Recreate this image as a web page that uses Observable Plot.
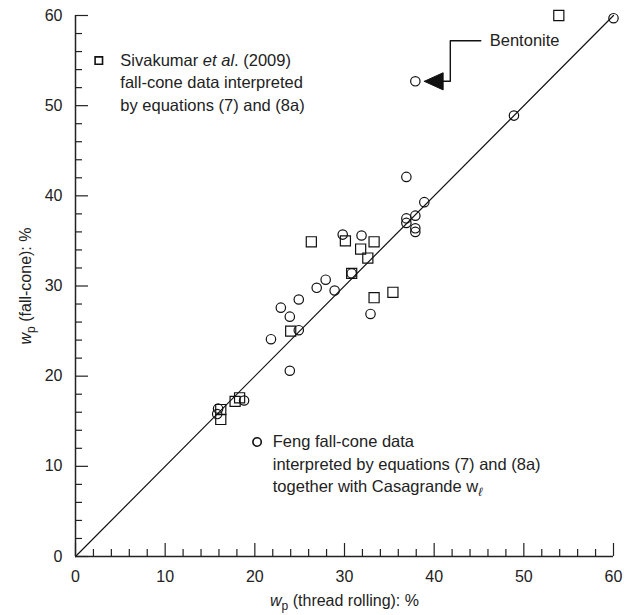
<!DOCTYPE html>
<html><head><meta charset="utf-8">
<script src="https://cdn.jsdelivr.net/npm/d3@7"></script>
<script src="https://cdn.jsdelivr.net/npm/@observablehq/plot@0.6"></script>
<style>
body{margin:0;background:#fff}
#chart svg{font-family:"Liberation Sans",Arial,sans-serif}
</style>
</head><body><div id="chart"></div>
<script>
// Sivakumar et al. (2009) – squares
const sivX = [53.9, 26.3, 30.1, 33.3, 31.8, 32.6, 30.8, 33.3, 35.4, 24.0, 18.3, 17.8, 16.2, 16.2];
const sivY = [60.0, 34.9, 35.0, 34.9, 34.1, 33.1, 31.4, 28.7, 29.3, 25.0, 17.6, 17.2, 16.3, 15.2];
// Feng – circles
const fengX = [60.0, 48.9, 37.9, 36.9, 38.9, 37.9, 36.9, 36.9, 37.9, 37.9, 29.8, 31.9, 30.8, 28.9, 27.9, 26.9, 24.9, 22.9, 23.9, 32.9, 24.9, 21.8, 23.9, 18.8, 15.9, 15.8];
const fengY = [59.7, 48.9, 52.7, 42.1, 39.3, 37.8, 37.5, 37.0, 36.4, 36.0, 35.7, 35.6, 31.4, 29.5, 30.7, 29.8, 28.5, 27.6, 26.6, 26.9, 25.1, 24.1, 20.6, 17.3, 16.4, 15.8];
// line of equality
const lineX = [0, 60];
const lineY = [0, 60];
// axis ticks
const majorTicks = [0, 10, 20, 30, 40, 50, 60];
const minorTicks = d3.range(2, 60, 2).filter(v => v % 10 !== 0);
// legend texts
const sivLegend = ["Sivakumar et al. (2009)", "fall-cone data interpreted", "by equations (7) and (8a)"];
const fengLegend = ["Feng fall-cone data", "interpreted by equations (7) and (8a)", "together with Casagrande wℓ"];
const sivLegendPos = {x: 2.6, y: 55.0, tx: 5.0};
const fengLegendPos = {x: 20.25, y: 12.7, tx: 22.0};
// Bentonite annotation
const bentoLabel = {x: 46.2, y: 57.2, text: "Bentonite"};
const leaderX = [45.2, 41.8, 41.8, 40.9];
const leaderY = [57.2, 57.2, 52.7, 52.7];
const arrowX = [38.9, 41.0, 41.0, 38.9];
const arrowY = [52.7, 53.65, 51.75, 52.7];
const xLabel = "wp (thread rolling): %";
const yLabel = "wp (fall-cone): %";

const ink = "#222";
const siv = sivX.map((x, i) => ({x, y: sivY[i]}));
const feng = fengX.map((x, i) => ({x, y: fengY[i]}));
const diag = lineX.map((x, i) => ({x, y: lineY[i]}));
const leader = leaderX.map((x, i) => ({x, y: leaderY[i]}));
const arrow = arrowX.map((x, i) => ({x, y: arrowY[i]}));

const fs = 16.5;
const lh = 22.5;

const plot = Plot.plot({
  width: 643, height: 615,
  marginLeft: 75, marginRight: 30, marginTop: 15, marginBottom: 59,
  x: {domain: [0, 60]},
  y: {domain: [0, 60]},
  style: {fontFamily: "Liberation Sans, Arial, sans-serif", fontSize: "16px", color: ink, background: "white", overflow: "visible"},
  marks: [
    Plot.line(diag, {x: "x", y: "y", stroke: "#111", strokeWidth: 1.2}),
    // ticks (inward)
    Plot.ruleX(minorTicks, {x: d => d, y1: 0, y2: 0, insetTop: -7, stroke: ink, strokeWidth: 1.2}),
    Plot.ruleX(majorTicks, {x: d => d, y1: 0, y2: 0, insetTop: -13, stroke: ink, strokeWidth: 1.2}),
    Plot.ruleY(minorTicks, {y: d => d, x1: 0, x2: 0, insetRight: -7, stroke: ink, strokeWidth: 1.2}),
    Plot.ruleY(majorTicks, {y: d => d, x1: 0, x2: 0, insetRight: -13, stroke: ink, strokeWidth: 1.2}),
    // axis lines
    Plot.ruleY([0], {stroke: ink, strokeWidth: 1.5}),
    Plot.ruleX([0], {stroke: ink, strokeWidth: 1.5}),
    Plot.axisX({ticks: majorTicks, tickSize: 0, tickPadding: 14, label: null, fontSize: 16, fill: ink}),
    Plot.axisY({ticks: majorTicks, tickSize: 0, tickPadding: 13, label: null, fontSize: 16, fill: ink}),
    Plot.text([xLabel], {x: 30, y: 0, text: d => d, dy: 44, fontSize: 16, fill: ink}),
    Plot.text([yLabel], {x: 0, y: 30, text: d => d, dx: -50, rotate: -90, fontSize: 16, fill: ink}),
    // data
    Plot.dot(siv, {x: "x", y: "y", symbol: "square", r: 5.7, stroke: "#111", strokeWidth: 1.2, fill: "none"}),
    Plot.dot(feng, {x: "x", y: "y", symbol: "circle", r: 4.7, stroke: "#111", strokeWidth: 1.2, fill: "none"}),
    // legends
    Plot.dot([sivLegendPos], {x: "x", y: "y", symbol: "square", r: 4.2, stroke: "#111", strokeWidth: 1.6, fill: "none"}),
    ...sivLegend.map((t, i) => Plot.text([t], {x: sivLegendPos.tx, y: sivLegendPos.y, text: d => d, dy: i * lh, textAnchor: "start", fontSize: fs, fill: ink})),
    Plot.dot([fengLegendPos], {x: "x", y: "y", symbol: "circle", r: 4.2, stroke: "#111", strokeWidth: 1.6, fill: "none"}),
    ...fengLegend.map((t, i) => Plot.text([t], {x: fengLegendPos.tx, y: fengLegendPos.y, text: d => d, dy: i * lh, textAnchor: "start", fontSize: fs, fill: ink})),
    // Bentonite annotation
    Plot.text([bentoLabel], {x: "x", y: "y", text: "text", textAnchor: "start", fontSize: fs, fill: ink}),
    Plot.line(leader, {x: "x", y: "y", stroke: "#111", strokeWidth: 1.4, curve: "linear"}),
    Plot.line(arrow, {x: "x", y: "y", fill: "#111", stroke: "#111", strokeWidth: 1})
  ]
});

// rich text: italics and subscripts
const sel = d3.select(plot);
sel.selectAll("text").each(function () {
  const el = d3.select(this);
  const t = this.textContent;
  if (t === xLabel) {
    el.html('<tspan font-style="italic">w</tspan><tspan font-size="12" dy="4">p</tspan><tspan dy="-4"> (thread rolling): %</tspan>');
  } else if (t === yLabel) {
    el.html('<tspan font-style="italic">w</tspan><tspan font-size="12" dy="4">p</tspan><tspan dy="-4"> (fall-cone): %</tspan>');
  } else if (t === sivLegend[0]) {
    el.html('Sivakumar <tspan font-style="italic">et al</tspan>. (2009)');
  } else if (t === fengLegend[2]) {
    el.html('together with Casagrande w<tspan font-size="12" font-style="italic" dy="4">ℓ</tspan>');
  }
});

document.getElementById("chart").appendChild(plot);
</script>
</body></html>
